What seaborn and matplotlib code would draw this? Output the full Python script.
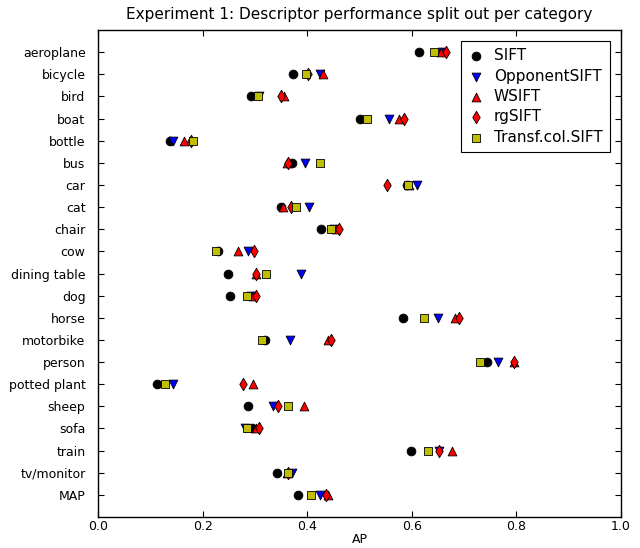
import numpy as np
import pandas as pd
import seaborn as sns
import matplotlib
matplotlib.use("Agg")
import matplotlib.pyplot as plt

# categories, top to bottom
categories = ["aeroplane", "bicycle", "bird", "boat", "bottle", "bus", "car",
              "cat", "chair", "cow", "dining table", "dog", "horse", "motorbike",
              "person", "potted plant", "sheep", "sofa", "train", "tv/monitor", "MAP"]

# AP per descriptor
sift = [0.613, 0.373, 0.293, 0.500, 0.138, 0.371, 0.590, 0.350, 0.426, 0.229, 0.249,
        0.253, 0.583, 0.320, 0.743, 0.113, 0.286, 0.295, 0.599, 0.343, 0.383]
opponent_sift = [0.658, 0.424, 0.308, 0.556, 0.143, 0.396, 0.609, 0.404, 0.452, 0.287, 0.389,
                 0.292, 0.651, 0.367, 0.765, 0.144, 0.335, 0.282, 0.652, 0.370, 0.424]
w_sift = [0.655, 0.431, 0.355, 0.576, 0.165, 0.362, 0.594, 0.353, 0.455, 0.267, 0.303,
          0.297, 0.682, 0.439, 0.795, 0.296, 0.394, 0.302, 0.677, 0.362, 0.439]
rg_sift = [0.665, 0.401, 0.350, 0.586, 0.178, 0.363, 0.553, 0.369, 0.461, 0.299, 0.303,
           0.302, 0.690, 0.446, 0.796, 0.278, 0.344, 0.307, 0.652, 0.363, 0.435]
transf_col_sift = [0.643, 0.397, 0.306, 0.514, 0.181, 0.425, 0.592, 0.379, 0.445, 0.225, 0.322,
                   0.285, 0.623, 0.313, 0.731, 0.128, 0.364, 0.285, 0.631, 0.363, 0.407]

descriptors = ["SIFT", "OpponentSIFT", "WSIFT", "rgSIFT", "Transf.col.SIFT"]
values = [sift, opponent_sift, w_sift, rg_sift, transf_col_sift]

rows = []
for name, vals in zip(descriptors, values):
    for i, (cat, v) in enumerate(zip(categories, vals)):
        rows.append({"descriptor": name, "category": cat, "pos": i, "AP": v})
df = pd.DataFrame(rows)

sns.set_style("ticks")
plt.rcParams["font.family"] = ["DejaVu Sans"]
# old matplotlib look: everything pure black
for key in ["text.color", "axes.labelcolor", "xtick.color", "ytick.color", "axes.edgecolor"]:
    plt.rcParams[key] = "k"

colors = {"SIFT": "k", "OpponentSIFT": "b", "WSIFT": "r", "rgSIFT": "r", "Transf.col.SIFT": (0.75, 0.75, 0)}
markers = {"SIFT": "o", "OpponentSIFT": "v", "WSIFT": "^", "rgSIFT": "d", "Transf.col.SIFT": "s"}

fig = plt.figure(figsize=(6.4, 5.48), dpi=100)
ax = fig.add_axes([98 / 640, 1 - 517 / 548, 523 / 640, 487 / 548])

for name in descriptors:
    sub = df[df["descriptor"] == name]
    sns.scatterplot(data=sub, x="AP", y="pos", color=colors[name], marker=markers[name],
                    s=40, edgecolor="k", linewidth=0.6, label=name, ax=ax, zorder=3)

ax.set_xlim(0, 1.0)
ax.set_ylim(len(categories), -1)
ax.set_yticks(range(len(categories)))
ax.set_yticklabels(categories, fontsize=9)
ax.set_xticks(np.arange(0, 1.01, 0.2))
ax.set_xticklabels(["%.1f" % t for t in np.arange(0, 1.01, 0.2)], fontsize=9)
ax.tick_params(direction="in", top=True, right=True, length=4, width=0.8, colors="k")
ax.tick_params(axis="y", pad=9)
ax.tick_params(axis="x", pad=2)
for sp in ax.spines.values():
    sp.set_visible(True)
    sp.set_linewidth(1.0)
    sp.set_color("k")
ax.set_xlabel("AP", fontsize=9, labelpad=0.5, color="k")
ax.set_ylabel("")
ax.set_title("Experiment 1: Descriptor performance split out per category", fontsize=11, pad=8, color="k")

leg = ax.legend(loc="upper right", fontsize=11, frameon=True, fancybox=False,
                edgecolor="k", framealpha=1, borderpad=0.45, handlelength=1.0,
                handletextpad=0.7, labelspacing=0.35, borderaxespad=0.75)
leg.get_frame().set_linewidth(0.8)
for t in leg.get_texts():
    t.set_color("k")

fig.savefig("out.png", dpi=100)
